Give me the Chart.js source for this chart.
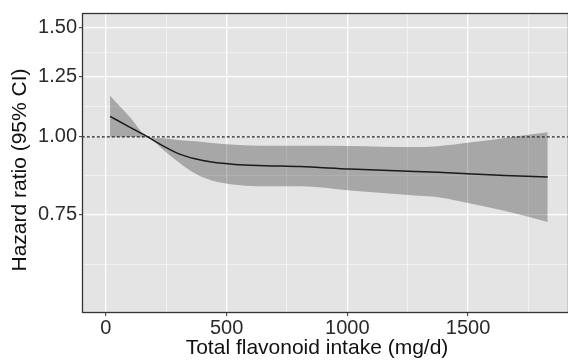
<!DOCTYPE html>
<html>
<head>
<meta charset="utf-8">
<script src="https://cdn.jsdelivr.net/npm/chart.js@4"></script>
<style>body{margin:0;background:#fff}</style>
</head>
<body>
<canvas id="hrChart" width="568" height="360"></canvas>
<script>
// Restricted cubic spline: hazard ratio vs total flavonoid intake
const intake  = [17, 100, 175, 231, 300, 369, 438, 534, 659, 804, 1011, 1280, 1375, 1515, 1653, 1830];
const hrMid   = [1.079, 1.036, 0.999, 0.970, 0.940, 0.922, 0.911, 0.903, 0.899, 0.896, 0.888, 0.880, 0.877, 0.872, 0.867, 0.862];
const hrUpper = [1.165, 1.075, 0.999, 0.995, 0.989, 0.984, 0.978, 0.971, 0.968, 0.968, 0.967, 0.963, 0.966, 0.980, 0.996, 1.017];
const hrLower = [1.000, 1.000, 0.999, 0.958, 0.911, 0.873, 0.851, 0.838, 0.833, 0.833, 0.820, 0.805, 0.800, 0.781, 0.760, 0.730];

const yTicks = [0.75, 1.00, 1.25, 1.50];
const yMinor = [0.624, 0.866, 1.118, 1.369];
const xTicks = [0, 500, 1000, 1500];
const xMinor = [250, 750, 1250, 1750];

const xTitle = 'Total flavonoid intake (mg/d)';
const yTitle = 'Hazard ratio (95% CI)';

const pts = ys => intake.map((x, i) => ({x: x, y: ys[i]}));
const isMajorX = v => xTicks.includes(v);
const isMajorY = v => yTicks.includes(v);

const panel = {
  id: 'panel',
  beforeDraw(chart) {
    const {ctx, chartArea: a} = chart;
    ctx.save();
    ctx.fillStyle = '#E4E4E4';
    ctx.fillRect(a.left, a.top, a.right - a.left, a.bottom - a.top);
    ctx.restore();
  },
  afterDraw(chart) {
    const {ctx, chartArea: a} = chart;
    ctx.save();
    ctx.strokeStyle = '#333';
    ctx.lineWidth = 1.3;
    ctx.strokeRect(a.left - 0.5, a.top - 0.5, a.right - a.left + 1, a.bottom - a.top + 1);
    ctx.fillStyle = '#111';
    ctx.font = '21px "Liberation Sans", Arial, sans-serif';
    ctx.textAlign = 'center';
    ctx.textBaseline = 'middle';
    ctx.fillText(xTitle, a.left + 234, 348);
    ctx.translate(20, 170);
    ctx.rotate(-Math.PI / 2);
    ctx.fillText(yTitle, 0, 0);
    ctx.restore();
  }
};

new Chart(document.getElementById('hrChart'), {
  type: 'line',
  data: {
    datasets: [
      {
        data: pts(hrUpper),
        borderWidth: 0,
        pointRadius: 0,
        fill: '+1',
        backgroundColor: 'rgba(51,51,51,0.34)',
        cubicInterpolationMode: 'monotone',
        order: 3
      },
      {
        data: pts(hrLower),
        borderWidth: 0,
        pointRadius: 0,
        fill: false,
        cubicInterpolationMode: 'monotone',
        order: 3
      },
      {
        data: [{x: -100, y: 1}, {x: 1950, y: 1}],
        borderColor: '#222',
        borderWidth: 1.3,
        borderDash: [3, 2],
        pointRadius: 0,
        fill: false,
        order: 2
      },
      {
        data: pts(hrMid),
        borderColor: '#1a1a1a',
        borderWidth: 1.5,
        pointRadius: 0,
        fill: false,
        cubicInterpolationMode: 'monotone',
        order: 1
      }
    ]
  },
  options: {
    responsive: false,
    animation: false,
    layout: {padding: {top: 13, left: 0, right: 0, bottom: 0}},
    plugins: {legend: {display: false}, tooltip: {enabled: false}},
    scales: {
      x: {
        type: 'linear',
        min: -95,
        max: 1914,
        afterBuildTicks: s => { s.ticks = [...xTicks, ...xMinor].sort((a, b) => a - b).map(v => ({value: v})); },
        afterFit: s => { s.height = 48; },
        border: {display: false},
        grid: {
          color: c => (c.tick && isMajorX(c.tick.value)) ? '#FFFFFF' : 'rgba(255,255,255,0.9)',
          lineWidth: c => (c.tick && isMajorX(c.tick.value)) ? 1.3 : 0.6,
          tickColor: c => (c.tick && isMajorX(c.tick.value)) ? '#333' : 'rgba(0,0,0,0)',
          tickLength: 4,
          tickWidth: 1
        },
        ticks: {
          autoSkip: false,
          maxRotation: 0,
          padding: 0,
          color: '#2a2a2a',
          font: {family: '"Liberation Sans", Arial, sans-serif', size: 20},
          callback: v => isMajorX(v) ? String(v) : ''
        }
      },
      y: {
        type: 'logarithmic',
        min: 0.523,
        max: 1.576,
        afterBuildTicks: s => { s.ticks = [...yTicks, ...yMinor].sort((a, b) => a - b).map(v => ({value: v})); },
        afterFit: s => { s.width = 83; },
        border: {display: false},
        grid: {
          color: c => (c.tick && isMajorY(c.tick.value)) ? '#FFFFFF' : 'rgba(255,255,255,0.9)',
          lineWidth: c => (c.tick && isMajorY(c.tick.value)) ? 1.3 : 0.6,
          tickColor: c => (c.tick && isMajorY(c.tick.value)) ? '#333' : 'rgba(0,0,0,0)',
          tickLength: 4,
          tickWidth: 1
        },
        ticks: {
          autoSkip: false,
          padding: 2,
          color: '#2a2a2a',
          font: {family: '"Liberation Sans", Arial, sans-serif', size: 20},
          callback: v => isMajorY(v) ? v.toFixed(2) : ''
        }
      }
    }
  },
  plugins: [panel]
});
</script>
</body>
</html>
